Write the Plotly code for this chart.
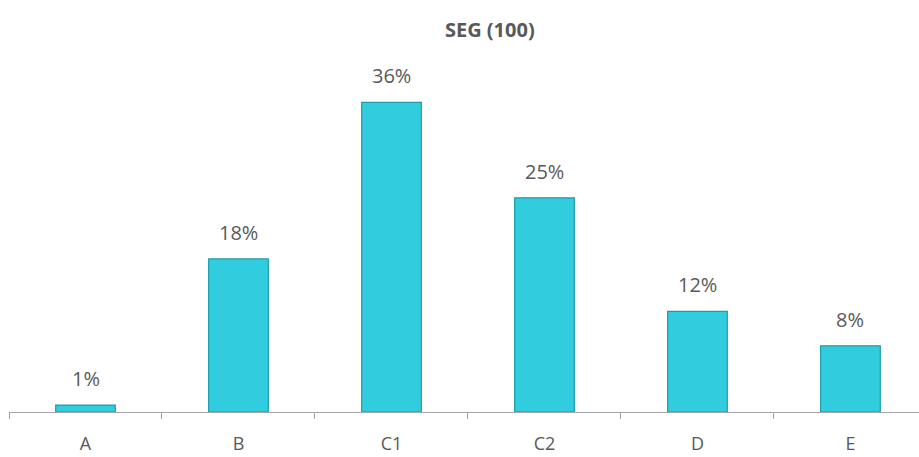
import plotly.graph_objects as go

categories = ["A", "B", "C1", "C2", "D", "E"]
values = [0.8, 17.8, 36.0, 24.9, 11.7, 7.7]
labels = ["1%", "18%", "36%", "25%", "12%", "8%"]
title_text = "SEG (100)"

FONT = "Open Sans, Liberation Sans, sans-serif"

fig = go.Figure()
fig.add_trace(go.Bar(
    x=categories, y=values,
    marker=dict(color="#31CDDF", line=dict(color="#1F9CAA", width=1.2)),
    hoverinfo="skip", showlegend=False,
))

for c, v, t in zip(categories, values, labels):
    fig.add_annotation(x=c, y=v, text=t, showarrow=False, yanchor="bottom",
                       yshift=11, font=dict(family=FONT, size=20, color="#595959"))

fig.update_layout(
    width=919, height=457,
    margin=dict(l=9, r=0, t=60, b=45),
    paper_bgcolor="white", plot_bgcolor="white",
    bargap=0.61,
    title=dict(text="<b>" + title_text + "</b>", x=0.533, xanchor="center",
               y=0.935, yanchor="middle",
               font=dict(family=FONT, size=20, color="#595959")),
    xaxis=dict(range=[-0.5, 5.448], showline=True, linecolor="#A6A6A6", linewidth=1.3,
               ticks="outside", tickson="boundaries", ticklen=6, tickcolor="#A6A6A6",
               ticklabelstandoff=15, automargin=False,
               tickfont=dict(family=FONT, size=18, color="#595959"),
               showgrid=False, zeroline=False),
    yaxis=dict(range=[0, 40.93], visible=False, showgrid=False, zeroline=False),
)

fig.write_html("out.html")
